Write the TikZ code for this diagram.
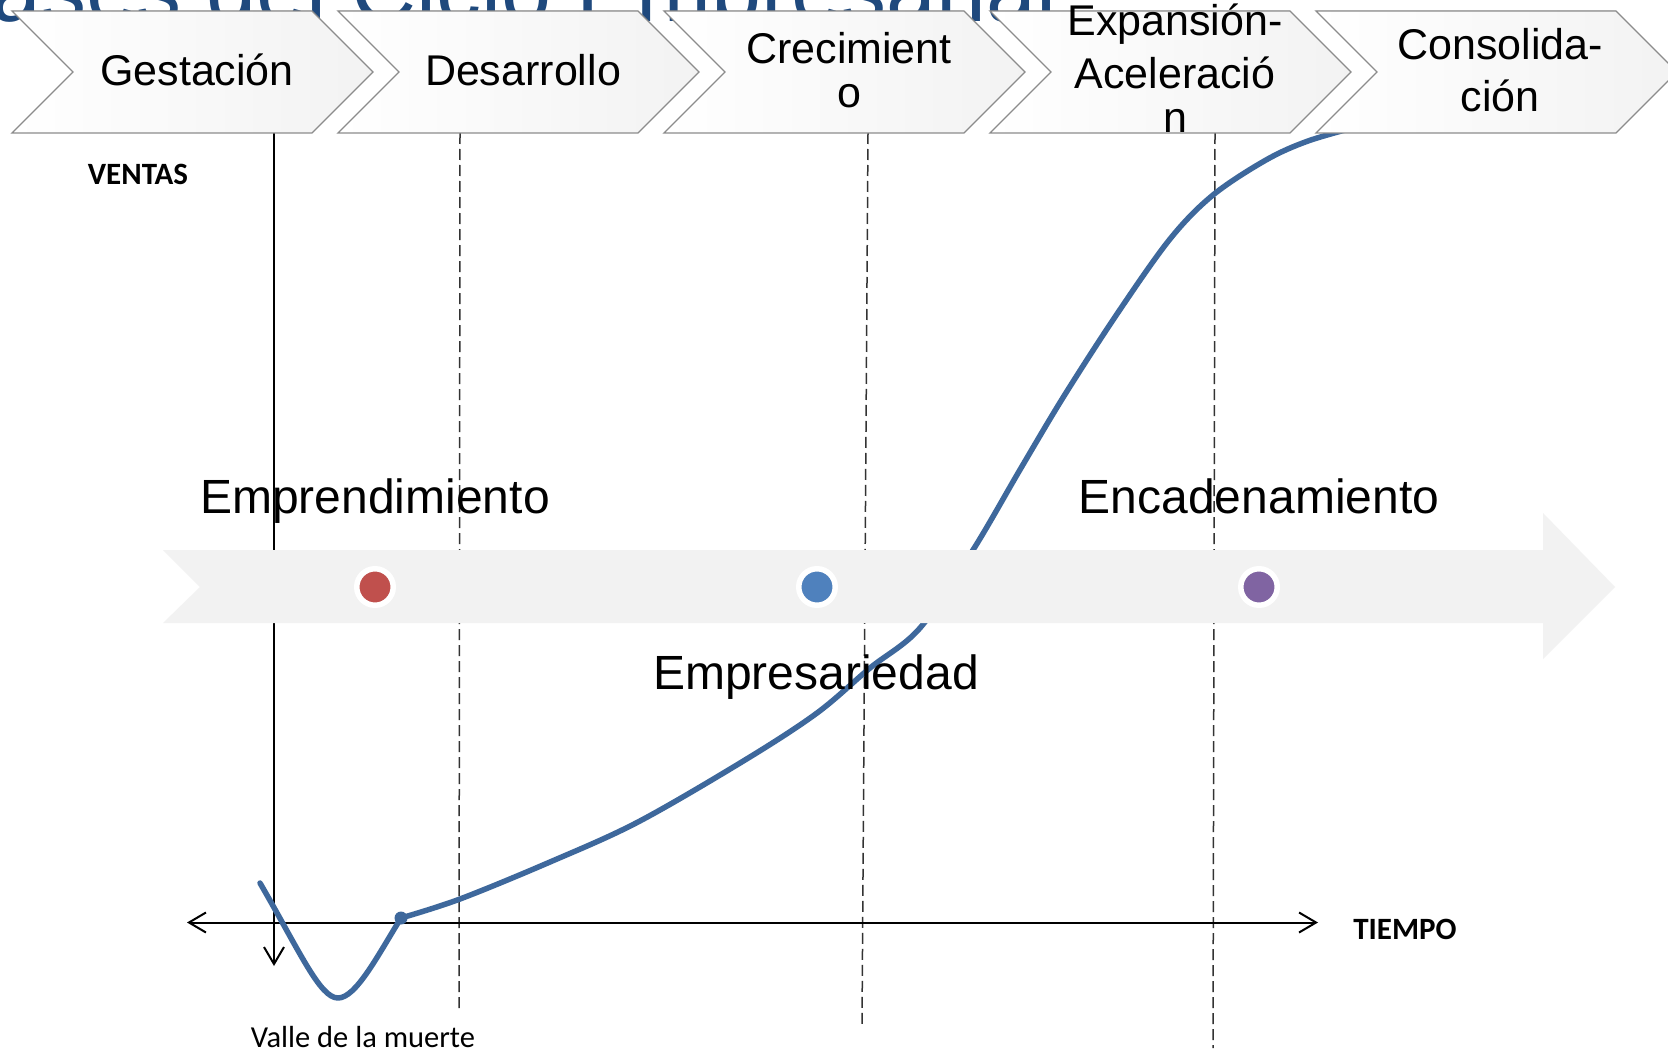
\documentclass[tikz,border=0pt]{standalone}
\usepackage{fontspec}
\setmainfont{Liberation Sans}
\newfontfamily\calib{Carlito}
\usetikzlibrary{arrows.meta}
\definecolor{titleblue}{RGB}{31,73,125}
\definecolor{curveblue}{RGB}{62,104,156}
\definecolor{bandgray}{RGB}{242,242,242}
\definecolor{dotred}{RGB}{192,80,77}
\definecolor{dotblue}{RGB}{79,129,189}
\definecolor{dotpurple}{RGB}{128,100,162}
\definecolor{chevline}{RGB}{140,140,140}
\newcommand\chstrut{\rule[-20pt]{0pt}{40pt}}
\begin{document}
\begin{tikzpicture}[x=1pt,y=-1pt,
  titletxt/.style={anchor=base east, inner sep=0pt, text=titleblue, font=\fontsize{90}{96}\selectfont},
  phase/.style={line width=1.5pt, black!80, dash pattern=on 11pt off 5pt},
  axisline/.style={line width=2pt, black},
  salescurve/.style={line width=5.5pt, curveblue, line cap=round, line join=round},
  chev/.style={draw=chevline, line width=1.3pt, left color=white, right color=black!5},
  chevtxt/.style={anchor=center, inner sep=0pt, align=center, font=\fontsize{43}{44}\selectfont},
  bigtxt/.style={anchor=base, inner sep=0pt, font=\fontsize{48}{52}\selectfont},
  axtxt/.style={anchor=base, inner sep=0pt, font=\calib\bfseries\fontsize{31}{34}\selectfont},
  valtxt/.style={anchor=base, inner sep=0pt, font=\calib\fontsize{30.5}{34}\selectfont},
  stagedot/.style={circle, draw=white, line width=5.5pt, minimum size=36.5pt, inner sep=0pt}
]
\useasboundingbox (0,0) rectangle (1668,1054);
\fill[white] (0,0) rectangle (1668,1054);

% partly hidden title
\node[titletxt] (title) at (1057,22) {Fases del Ciclo Empresarial};

% phase separators
\coordinate (d1t) at (460,133);  \coordinate (d1b) at (459,1010);
\coordinate (d2t) at (868,133);  \coordinate (d2b) at (862,1024);
\coordinate (d3t) at (1215,133); \coordinate (d3b) at (1213,1048);
\draw[phase] (d1t) -- (d1b);
\draw[phase] (d2t) -- (d2b);
\draw[phase] (d3t) -- (d3b);

% axes
\coordinate (vt) at (274,133); \coordinate (vb) at (274,966);
\coordinate (hl) at (187,922.5); \coordinate (hr) at (1318,922.5);
\draw[axisline, -{Straight Barb[length=17pt, width=20pt]}] (vt) -- (vb);
\draw[axisline, {Straight Barb[length=17pt, width=20pt]}-{Straight Barb[length=17pt, width=20pt]}] (hl) -- (hr);

% sales curve
\draw[salescurve] (260,883) .. controls (300,952) and (320,998) .. (338,998)
  .. controls (356,998) and (378,955) .. (401,918);
\draw[salescurve] plot[smooth, tension=0.55] coordinates {(401,918) (460,899) (550,862) (638,822) (745,760) (817,713) (870,668) (920,628) (973,550) (1021,468) (1064,396) (1117,314) (1170,239) (1213,195) (1266,160) (1308,141) (1360,126)};
\fill[curveblue] (401,918) circle (6.5);

% timeline band
\fill[bandgray] (163,550) -- (1543,550) -- (1543,513) -- (1615,587) -- (1543,659)
  -- (1543,623) -- (163,623) -- (200,587) -- cycle;
\node[stagedot, fill=dotred] (dred) at (375,587) {};
\node[stagedot, fill=dotblue] (dblue) at (817,587) {};
\node[stagedot, fill=dotpurple] (dpurple) at (1259,587) {};

% chevrons
\foreach \L in {12,338,664,990,1316}{
  \filldraw[chev] (\L,11) -- (\L+300,11) -- (\L+361,72) -- (\L+300,133) -- (\L,133) -- (\L+61,72) -- cycle;
}
\node[chevtxt] (c1) at (197,80) {\chstrut Gestación};
\node[chevtxt] (c2) at (523,80) {\chstrut Desarrollo};
\node[chevtxt] (c3) at (849,80) {\chstrut Crecimient\\\chstrut o};
\node[chevtxt] (c4) at (1175,78) {\chstrut Expansión-\\\chstrut Aceleració\\\chstrut n};
\node[chevtxt] (c5) at (1500,80) {\chstrut Consolida-\\\chstrut ción};

% labels
\node[bigtxt] (emp) at (375,513) {Emprendimiento};
\node[bigtxt] (enc) at (1259,513) {Encadenamiento};
\node[bigtxt] (empr) at (816,689) {Empresariedad};
\node[axtxt] (ventas) at (138,185) {VENTAS};
\node[axtxt] (tiempo) at (1405,939) {TIEMPO};
\node[valtxt] (valle) at (363,1047) {Valle de la muerte};
\end{tikzpicture}
\end{document}
